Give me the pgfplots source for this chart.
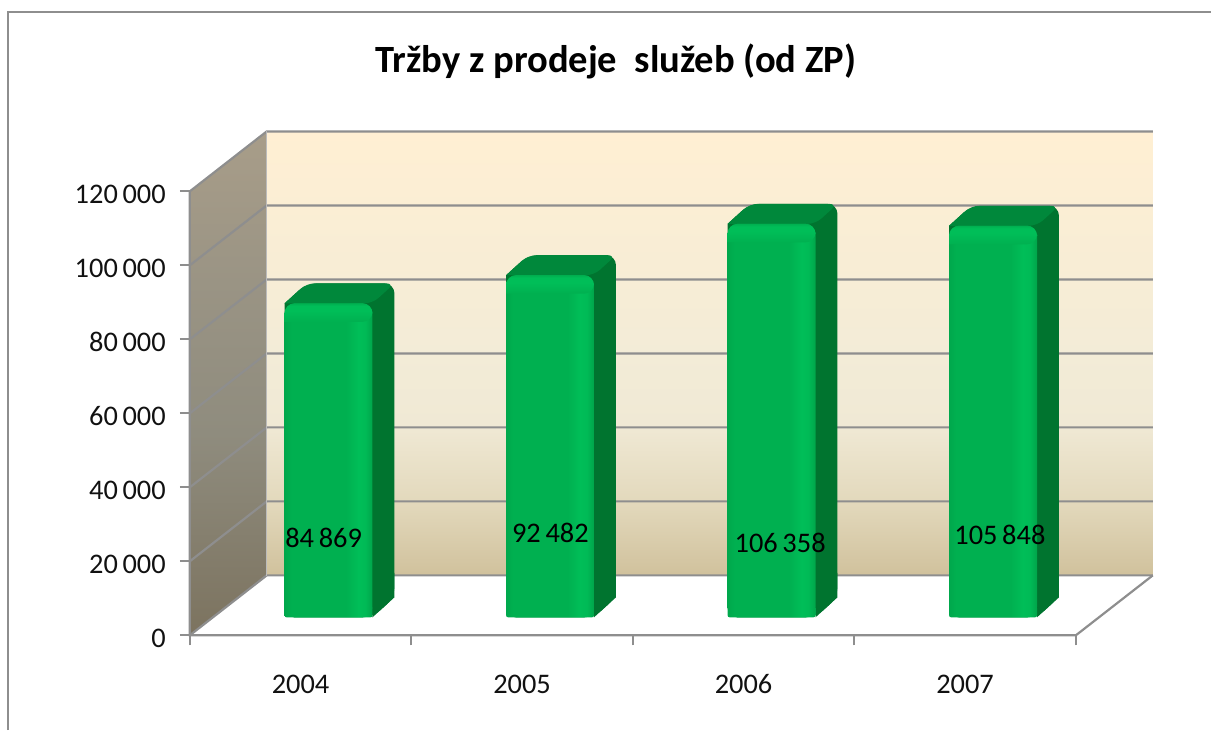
\documentclass[border=0pt]{standalone}
\usepackage{pgfplots}
\usepackage{pgfplotstable}
\usepackage{fontspec}
\setmainfont{Carlito}
\pgfplotsset{compat=1.18}

\definecolor{gridc}{HTML}{8E8E8E}
\definecolor{sidec}{HTML}{00742F}
\definecolor{topc}{HTML}{00883B}
\definecolor{txt}{HTML}{111111}
\definecolor{barE}{RGB}{0,168,76}
\definecolor{barM}{RGB}{0,176,80}
\definecolor{barL}{RGB}{0,190,88}
\definecolor{barN}{RGB}{0,186,86}
\definecolor{barR}{RGB}{0,165,74}

% front face of the bars, light stripe near the right edge
\pgfdeclarehorizontalshading{barface}{100bp}{
  color(0bp)=(barE);
  color(25bp)=(barE);
  color(29bp)=(barM);
  color(60bp)=(barM);
  color(67bp)=(barL);
  color(71bp)=(barN);
  color(75bp)=(barR);
  color(100bp)=(barR)}
% back wall and side wall
\pgfdeclareverticalshading{backwall}{100bp}{
  rgb(0bp)=(0.816,0.757,0.612);
  rgb(25bp)=(0.816,0.757,0.612);
  rgb(33bp)=(0.886,0.847,0.733);
  rgb(42bp)=(0.941,0.914,0.835);
  rgb(50bp)=(0.953,0.925,0.843);
  rgb(75bp)=(1,0.937,0.827);
  rgb(100bp)=(1,0.937,0.827)}
\pgfdeclareverticalshading{sidewall}{100bp}{
  rgb(0bp)=(0.486,0.451,0.373);
  rgb(25bp)=(0.486,0.451,0.373);
  rgb(45bp)=(0.561,0.549,0.494);
  rgb(60bp)=(0.604,0.580,0.518);
  rgb(75bp)=(0.659,0.616,0.537);
  rgb(100bp)=(0.659,0.616,0.537)}
% top band of the front face, bright a little below the edge
\pgfdeclareverticalshading{topband}{100bp}{
  color(0bp)=(barM);
  color(25bp)=(barM);
  color(55bp)=(barL);
  color(68bp)=(barL);
  color(75bp)=(barM);
  color(100bp)=(barM)}

% pixel position of the reference, 1 px = 0.5 pt
\newcommand\Px[2]{([shift={({(#1-190)*0.5pt},{(636-(#2))*0.5pt})}]axis cs:0,0)}

% depth of one bar: xL xLb xRb xR value value+depth
\newcommand\depth[6]{
  \addplot[draw=none,fill=sidec,rounded corners=5pt,xshift=14pt,yshift=9pt] coordinates
    {(#1,#5) (#2,#6) (#3,#6) (#3,5400) (#4,0) (#1,0) (#1,#5)};
  \addplot[draw=none,fill=sidec,xshift=14pt,yshift=9pt] coordinates
    {(#4,0) (#3,5400) (#3,12000) (#4,12000) (#4,0)};
  \addplot[draw=none,fill=topc,rounded corners=4pt,xshift=14pt,yshift=9pt] coordinates
    {(#1,#5) (#2,#6) (#3,#6) (#4,#5) (#1,#5)};
}
% front of one bar: x value
\newcommand\front[2]{
  \addplot[ybar, bar width=44pt, draw=none, shade, shading=barface,
           rounded corners=1pt, xshift=14pt, yshift=9pt] coordinates {(#1,3000)};
  \addplot[ybar, bar width=44pt, draw=none, shade, shading=barface,
           rounded corners=5pt, xshift=14pt, yshift=9pt] coordinates {(#1,#2)};
}
% light band along the top edge: xL xR value-band value
\newcommand\band[4]{
  \addplot[draw=none, shade, shading=topband, rounded corners=5pt,
           xshift=14pt, yshift=9pt] coordinates
    {(#1,#3) (#1,#4) (#2,#4) (#2,#3) (#1,#3)};
}

\begin{document}
\begin{tikzpicture}
\begin{axis}[
  scale only axis,
  width=443.5pt, height=222.2pt,
  xmin=0, xmax=4, ymin=0, ymax=120000,
  clip=false,
  axis line style={draw=none},
  font=\fontsize{14.2}{16}\selectfont,
  tick style={gridc, line width=1pt},
  major tick length=5pt,
  tick align=outside,
  xtick={0,1,2,3,4}, xticklabels={},
  extra x ticks={0.5,1.5,2.5,3.5},
  extra x tick labels={2004,2005,2006,2007},
  extra x tick style={major tick length=0pt, tick label style={anchor=base, yshift=-29pt}},
  ytick={0,20000,40000,60000,80000,100000,120000},
  yticklabels={0,20\,000,40\,000,60\,000,80\,000,100\,000,120\,000},
  scaled y ticks=false,
  xtick pos=bottom, ytick pos=left,
  ticklabel style={text=txt},
  yticklabel style={xshift=-3.5pt, yshift=-1.5pt},
  title={\fontsize{19.3}{22}\selectfont\bfseries Tržby z prodeje\ \ služeb (od ZP)},
  title style={at={(0.481,1.2646)}, anchor=center, text=black},
]
% page and outer frame
\path \Px{0}{0} rectangle \Px{1212}{731};
\draw[gridc, line width=1.3pt] \Px{8}{731} -- \Px{8}{12} -- \Px{1212}{12};

% walls and floor
\shade[shading=backwall] \Px{267}{131.5} rectangle \Px{1154}{576.5};
\shade[shading=sidewall]
  \Px{190}{192} -- \Px{267}{131.5} -- \Px{267}{576.5} -- \Px{190}{636} -- cycle;

% gridlines on the walls
\pgfplotsinvokeforeach{0,1,2,3,4,5,6}{
  \draw[gridc, line width=1.1pt] \Px{190}{636-74.07*#1} -- \Px{267}{576-74.07*#1} -- \Px{1154}{576-74.07*#1};
}
\draw[gridc, line width=1.1pt] \Px{190}{192} -- \Px{190}{636} -- \Px{1077}{636} -- \Px{1154}{576};
\draw[gridc!60, line width=0.5pt] \Px{267}{131.5} -- \Px{267}{576.5};

% bars
\depth{0.3016}{0.4008}{0.7976}{0.6984}{84869}{90269}
\depth{1.3016}{1.4008}{1.7976}{1.6984}{92482}{97882}
\depth{2.3016}{2.4008}{2.7976}{2.6984}{106358}{111758}
\depth{3.3016}{3.4008}{3.7976}{3.6984}{105848}{111248}
\front{0.5}{84869}
\front{1.5}{92482}
\front{2.5}{106358}
\front{3.5}{105848}
\band{0.3016}{0.6984}{79869}{84869}
\band{1.3016}{1.6984}{87482}{92482}
\band{2.3016}{2.6984}{101358}{106358}
\band{3.3016}{3.6984}{100848}{105848}

% value labels
\node[text=black] at (axis cs:0.604,26463) {84\,869};
\node[text=black] at (axis cs:1.628,27813) {92\,482};
\node[text=black] at (axis cs:2.665,25113) {106\,358};
\node[text=black] at (axis cs:3.657,27273) {105\,848};
\end{axis}
\end{tikzpicture}
\end{document}
